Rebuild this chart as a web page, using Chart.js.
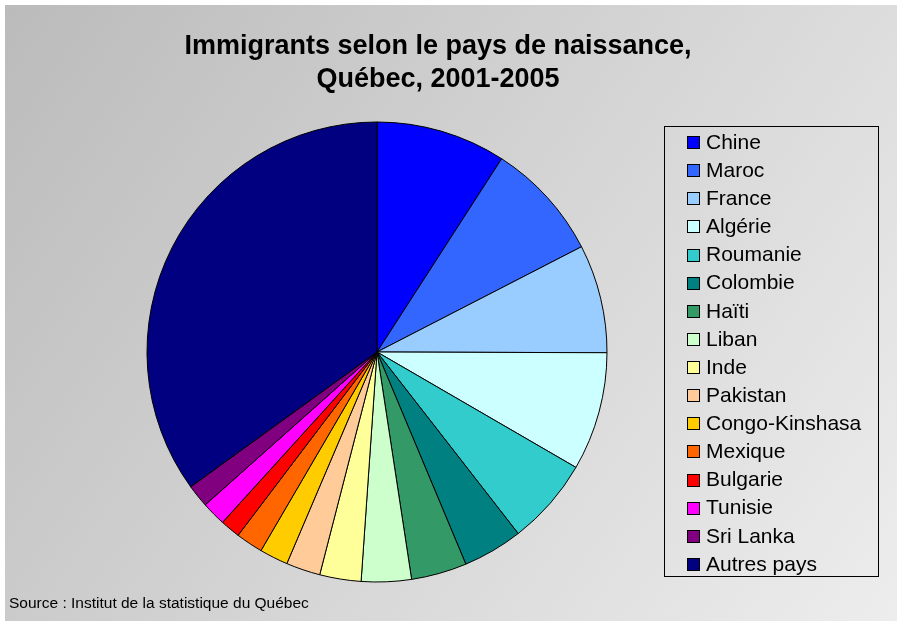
<!DOCTYPE html>
<html>
<head>
<meta charset="utf-8">
<script src="https://cdn.jsdelivr.net/npm/chart.js@4.4.1/dist/chart.umd.min.js"></script>
<style>
  body { margin: 0; background: #fff; }
  #wrap { width: 902px; height: 625px; }
</style>
</head>
<body>
<div id="wrap"><canvas id="pie"></canvas></div>
<script>
// pays de naissance, dans l'ordre du graphique
var pays = ['Chine', 'Maroc', 'France', 'Algérie', 'Roumanie', 'Colombie', 'Haïti', 'Liban',
    'Inde', 'Pakistan', 'Congo-Kinshasa', 'Mexique', 'Bulgarie', 'Tunisie', 'Sri Lanka', 'Autres pays'];

// part approximative (%)
var parts = [9.1, 8.3, 7.6, 8.3, 6.1, 4.2, 3.9, 3.5, 2.9, 2.4, 2.0, 1.9, 1.4, 1.7, 1.6, 34.9];

var couleurs = ['#0000FF', '#3366FF', '#99CCFF', '#CCFFFF', '#33CCCC', '#008080', '#339966', '#CCFFCC',
    '#FFFF99', '#FFCC99', '#FFCC00', '#FF6600', '#FF0000', '#FF00FF', '#800080', '#000080'];

var titre = ['Immigrants selon le pays de naissance,', 'Québec, 2001-2005'];
var source = 'Source : Institut de la statistique du Québec';

// fond degrade, titre, legende encadree et source
const decor = {
    id: 'decor',
    beforeDraw(chart) {
        const ctx = chart.ctx;
        ctx.save();
        ctx.fillStyle = '#fff';
        ctx.fillRect(0, 0, chart.width, chart.height);
        var grad = ctx.createLinearGradient(5, 5, 897, 621);
        grad.addColorStop(0, '#bbbbbb');
        grad.addColorStop(1, '#ededed');
        ctx.fillStyle = grad;
        ctx.fillRect(5, 5, 892, 616);
        ctx.restore();
    },
    afterDraw(chart) {
        const ctx = chart.ctx;
        ctx.save();
        ctx.fillStyle = '#000';
        ctx.textAlign = 'center';
        ctx.textBaseline = 'alphabetic';
        ctx.font = 'bold 27px "Liberation Sans", Arial, sans-serif';
        ctx.fillText(titre[0], 438, 54);
        ctx.fillText(titre[1], 438, 87);

        // legende
        ctx.strokeStyle = '#000';
        ctx.lineWidth = 1;
        ctx.strokeRect(664.5, 126.5, 214, 450);
        ctx.textAlign = 'left';
        ctx.textBaseline = 'middle';
        ctx.font = '21px "Liberation Sans", Arial, sans-serif';
        for (var i = 0; i < pays.length; i++) {
            var y = 142 + i * 28.13;
            ctx.fillStyle = couleurs[i];
            ctx.fillRect(687, Math.round(y) - 6, 13, 13);
            ctx.strokeRect(687.5, Math.round(y) - 5.5, 12, 12);
            ctx.fillStyle = '#000';
            ctx.fillText(pays[i], 706, y + 1);
        }

        ctx.font = '15.5px "Liberation Sans", Arial, sans-serif';
        ctx.fillText(source, 9, 604);
        ctx.restore();
    }
};

new Chart(document.getElementById('pie'), {
    type: 'pie',
    data: {
        labels: pays,
        datasets: [{
            data: parts,
            backgroundColor: couleurs,
            borderColor: '#000',
            borderWidth: 1
        }]
    },
    options: {
        responsive: true,
        maintainAspectRatio: false,
        animation: false,
        radius: 230,
        layout: { padding: { left: 140, right: 288, top: 110, bottom: 31 } },
        plugins: {
            legend: { display: false },
            tooltip: { enabled: false }
        }
    },
    plugins: [decor]
});
</script>
</body>
</html>
